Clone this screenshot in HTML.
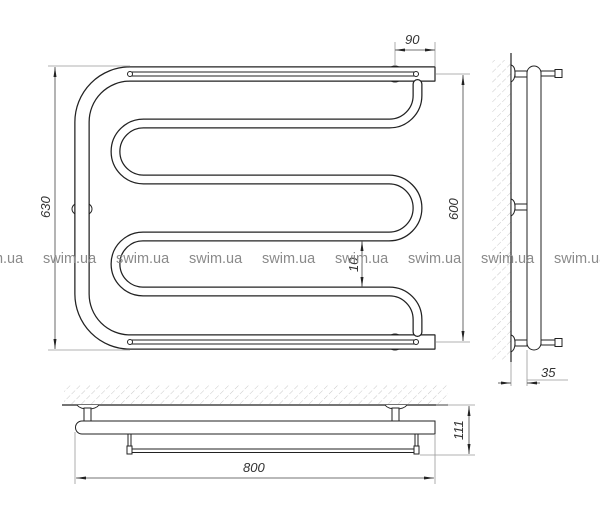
<!DOCTYPE html>
<html><head><meta charset="utf-8"><style>
html,body{margin:0;padding:0;background:#fff;width:600px;height:516px;overflow:hidden}
svg{display:block}
.d{font-family:"Liberation Sans",sans-serif;font-style:italic;font-size:13px;fill:#333}
.w{font-family:"Liberation Sans",sans-serif;font-size:14.5px;fill:#8a8a8a}
</style></head><body>
<svg width="600" height="516" viewBox="0 0 600 516" xmlns="http://www.w3.org/2000/svg">
<defs>
<pattern id="h" width="7" height="7" patternUnits="userSpaceOnUse" patternTransform="rotate(45)">
<line x1="0" y1="0" x2="0" y2="7" stroke="#bbb" stroke-width="0.8" stroke-dasharray="4 2"/>
</pattern>
<marker id="a" markerWidth="10" markerHeight="6" refX="10" refY="3" orient="auto-start-reverse" markerUnits="userSpaceOnUse"><path d="M0,1.5 L10,3 L0,4.5 Z" fill="#222"/></marker>
</defs>

<!-- Front view mounts -->
<circle cx="395" cy="74" r="8" fill="#fff" stroke="#222" stroke-width="1"/>
<circle cx="395" cy="342" r="8" fill="#fff" stroke="#222" stroke-width="1"/>
<ellipse cx="82" cy="209" rx="10" ry="7" fill="#fff" stroke="#222" stroke-width="1"/>

<!-- Big U -->
<path d="M435,74 L130,74 A48,48 0 0 0 82,122 L82,294 A48,48 0 0 0 130,342 L435,342" fill="none" stroke="#222" stroke-width="15.5"/>
<path d="M436,74 L130,74 A48,48 0 0 0 82,122 L82,294 A48,48 0 0 0 130,342 L436,342" fill="none" stroke="#fff" stroke-width="13"/>
<line x1="435" y1="66.5" x2="435" y2="81.5" stroke="#222" stroke-width="1.2"/>
<line x1="435" y1="334.5" x2="435" y2="349.5" stroke="#222" stroke-width="1.2"/>
<g stroke="#222" stroke-width="1" fill="#fff">
<line x1="129" y1="72" x2="417" y2="72"/><line x1="129" y1="76" x2="417" y2="76"/>
<circle cx="130" cy="74" r="2.5"/><circle cx="416" cy="74" r="2.5"/>
<line x1="129" y1="340" x2="417" y2="340"/><line x1="129" y1="344" x2="417" y2="344"/>
<circle cx="130" cy="342" r="2.5"/><circle cx="416" cy="342" r="2.5"/>
</g>

<!-- Serpentine -->
<path d="M417.5,84 L417.5,95.5 A28,28 0 0 1 389.5,123.5 L143.5,123.5 A28,28 0 0 0 143.5,179.5 L389,179.5 A28.5,28.5 0 0 1 389,236.5 L143,236.5 A27.5,27.5 0 0 0 143,291.5 L389.5,291.5 A28,28 0 0 1 417.5,319.5 L417.5,332" fill="none" stroke="#222" stroke-width="10" stroke-linecap="round"/>
<path d="M417.5,84 L417.5,95.5 A28,28 0 0 1 389.5,123.5 L143.5,123.5 A28,28 0 0 0 143.5,179.5 L389,179.5 A28.5,28.5 0 0 1 389,236.5 L143,236.5 A27.5,27.5 0 0 0 143,291.5 L389.5,291.5 A28,28 0 0 1 417.5,319.5 L417.5,332" fill="none" stroke="#fff" stroke-width="7.5" stroke-linecap="round"/>

<!-- Front dims -->
<g stroke="#999" stroke-width="0.8" fill="none">
<line x1="48" y1="66" x2="130" y2="66"/><line x1="48" y1="350" x2="130" y2="350"/>
<line x1="436" y1="74" x2="470" y2="74"/><line x1="436" y1="342" x2="470" y2="342"/>
<line x1="395" y1="42" x2="395" y2="66"/><line x1="435" y1="42" x2="435" y2="66"/>
</g>
<g stroke="#444" stroke-width="0.8">
<line x1="55" y1="67" x2="55" y2="349" marker-start="url(#a)" marker-end="url(#a)"/>
<line x1="463" y1="75" x2="463" y2="341" marker-start="url(#a)" marker-end="url(#a)"/>
<line x1="395" y1="50" x2="435" y2="50" marker-start="url(#a)" marker-end="url(#a)"/>
<line x1="362" y1="241" x2="362" y2="287" marker-start="url(#a)" marker-end="url(#a)"/>
</g>
<text class="d" transform="translate(50,218) rotate(-90)">630</text>
<text class="d" transform="translate(458,220) rotate(-90)">600</text>
<text class="d" x="405" y="44">90</text>
<text class="d" transform="translate(358,272) rotate(-90)">10</text>

<!-- Side view -->
<rect x="492" y="60" width="19" height="300" fill="url(#h)"/>
<line x1="511" y1="53" x2="511" y2="362" stroke="#222" stroke-width="1.2"/>
<g stroke="#222" stroke-width="1" fill="#fff">
<path d="M511,65 Q515,66 515,73 Q515,80 511,82 Z"/>
<path d="M511,335 Q515,336 515,343 Q515,350 511,352 Z"/>
<path d="M511,199 Q515,200 515,207 Q515,214 511,216 Z"/>
<rect x="515" y="71" width="12" height="6"/>
<rect x="515" y="340" width="12" height="6"/>
<rect x="515" y="204" width="12" height="6"/>
<path d="M527,73 A7,7 0 0 1 541,73 L541,343 A7,7 0 0 1 527,343 Z"/>
<rect x="541" y="71" width="14" height="5"/><rect x="555" y="69.5" width="7" height="8"/>
<rect x="541" y="340" width="14" height="5"/><rect x="555" y="338.5" width="7" height="8"/>
</g>
<g stroke="#999" stroke-width="0.8"><line x1="511" y1="362" x2="511" y2="386"/><line x1="527" y1="350" x2="527" y2="386"/><line x1="527" y1="380" x2="568" y2="380"/></g>
<g stroke="#444" stroke-width="0.8"><line x1="498" y1="383" x2="511" y2="383" marker-end="url(#a)"/><line x1="540" y1="383" x2="527" y2="383" marker-end="url(#a)"/></g>
<text class="d" x="541" y="377">35</text>

<!-- Bottom view -->
<rect x="64" y="385" width="384" height="20" fill="url(#h)"/>
<line x1="62" y1="405" x2="448" y2="405" stroke="#222" stroke-width="1.2"/>
<g stroke="#222" stroke-width="1" fill="#fff">
<path d="M77,405 Q80,409 88,409 Q96,409 99,405"/>
<path d="M385,405 Q388,409 396,409 Q404,409 407,405"/>
<rect x="84" y="408" width="7" height="13"/>
<rect x="392" y="408" width="7" height="13"/>
<path d="M82,421 L435,421 L435,434 L82,434 A6.5,6.5 0 0 1 82,421 Z"/>
<rect x="128" y="434" width="3" height="12"/><rect x="415" y="434" width="3" height="12"/>
<rect x="127" y="446" width="5" height="8"/><rect x="414" y="446" width="5" height="8"/>
<rect x="132" y="449" width="282" height="3.5"/>
</g>
<g stroke="#999" stroke-width="0.8">
<line x1="75" y1="432" x2="75" y2="484"/><line x1="435" y1="434" x2="435" y2="484"/>
<line x1="436" y1="405" x2="475" y2="405"/><line x1="420" y1="455" x2="475" y2="455"/>
</g>
<g stroke="#444" stroke-width="0.8">
<line x1="76" y1="478" x2="434" y2="478" marker-start="url(#a)" marker-end="url(#a)"/>
<line x1="469" y1="406" x2="469" y2="454" marker-start="url(#a)" marker-end="url(#a)"/>
</g>
<text class="d" x="243" y="472">800</text>
<text class="d" transform="translate(463,440) rotate(-90)">111</text>

<!-- watermark -->
<g class="w">
<text x="-30" y="263">swim.ua</text><text x="43" y="263">swim.ua</text><text x="116" y="263">swim.ua</text>
<text x="189" y="263">swim.ua</text><text x="262" y="263">swim.ua</text><text x="335" y="263">swim.ua</text>
<text x="408" y="263">swim.ua</text><text x="481" y="263">swim.ua</text><text x="554" y="263">swim.ua</text>
</g>
</svg>
</body></html>
